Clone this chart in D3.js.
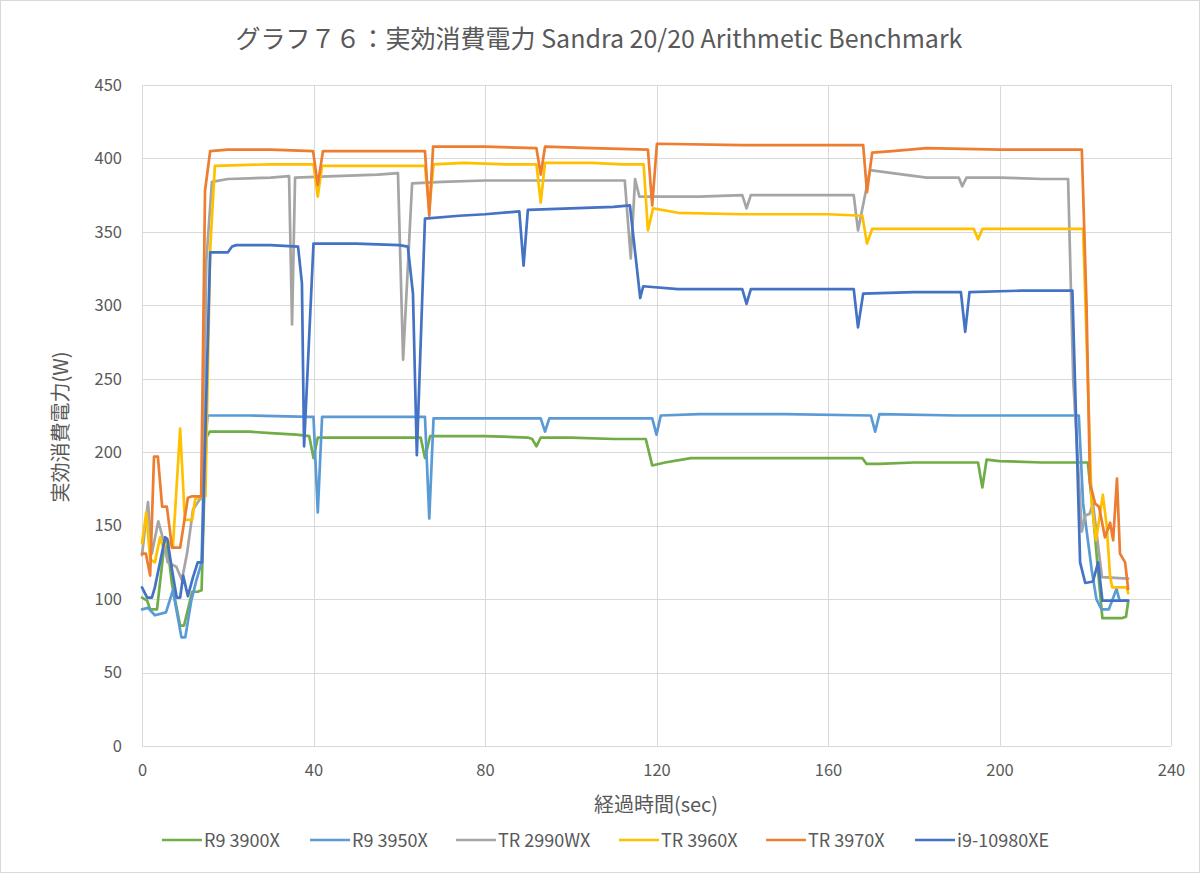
<!DOCTYPE html>
<html><head><meta charset="utf-8">
<script src="https://cdn.jsdelivr.net/npm/d3@7"></script>
<style>body{margin:0;background:#fff}svg{display:block}text{font-family:"Noto Sans CJK JP","Noto Sans",sans-serif}</style>
</head><body><svg id="c" width="1200" height="873"></svg>
<script>
const title = "グラフ７６：実効消費電力 Sandra 20/20 Arithmetic Benchmark";
const xTitle = "経過時間(sec)";
const yTitle = "実効消費電力(W)";
const xTicks = [0,40,80,120,160,200,240];
const yTicks = [0,50,100,150,200,250,300,350,400,450];
const seriesNames = ["R9 3900X","R9 3950X","TR 2990WX","TR 3960X","TR 3970X","i9-10980XE"];
const seriesColors = ["#70AD47","#5B9BD5","#A5A5A5","#FFC000","#ED7D31","#4472C4"];

const r9_3900x = [[0,101],[1.2,99],[1.9,93],[3.5,93],[5.4,142],[6.2,130],[7,110],[8.9,82],[9.8,82],[11.7,105],[13,105],[13.9,106],[14.5,170],[15,210],[15.8,214],[25,214],[30,213],[36,212],[39,211],[40,196],[41,210],[50,210],[60,210],[65,210],[66,196],[67.2,211],[80,211],[90,210],[91,209],[92,204],[93,210],[100,210],[110,209],[117.5,209],[119,191],[122,193],[128,196],[140,196],[150,196],[160,196],[168,196],[169,192],[172,192],[180,193],[195,193],[196,176],[197,195],[200,194],[210,193],[220.6,193],[221.8,159],[222.9,122],[224,87],[228.5,87],[229.5,88],[230,98]];
const r9_3950x = [[0,93],[1.4,94],[3,89],[5.6,91],[7.2,106],[9.2,74],[10.1,74],[11.5,99],[12.7,113],[13.9,125],[14.5,200],[15.3,225],[25,225],[39,224],[40,224],[41,159],[42,224],[55,224],[66,224],[67,155],[68,223],[80,223],[93,223],[94,214],[95,223],[110,223],[119,223],[120,212],[121,225],[130,226],[150,226],[170,225],[171,214],[172,226],[190,225],[210,225],[218.5,225],[219.5,165],[221.5,120],[222.6,100],[223.8,93],[225.5,93],[227.3,107],[228,99],[230,99]];
const tr_2990wx = [[0,130],[1.4,166],[2.3,131],[3.8,153],[5,140],[6,125],[8,122],[9.3,113],[10.5,131],[11.9,161],[13.5,168],[14.2,169],[15,330],[16.3,384],[20,386],[30,387],[34.3,388],[35,287],[35.7,387],[45,388],[55,389],[59.7,390],[60.9,263],[63,383],[70,384],[80,385],[100,385],[112.6,385],[114,332],[115,386],[116,374],[130,374],[140,375],[141,366],[142,375],[166,375],[167,351],[169.8,392],[175,390],[183,387],[190.5,387],[191.3,381],[192.3,387],[200,387],[210,386],[216,386],[217.2,249],[219.2,146],[220,157],[221,158],[221.8,165],[223.9,115],[230,114]];
const tr_3960x = [[0,138],[1,159],[1.9,127],[3,125],[4.2,142],[5,135],[6,140],[7.2,135],[8.9,216],[10,154],[11.7,154],[12.4,168],[14,170],[14.8,170],[15.9,338],[17,395],[30,396],[40,396],[41,374],[42,395],[55,395],[66,395],[67,365],[68,396],[75,397],[85,396],[92,396],[93,370],[94,397],[105,397],[112,396],[117,396],[118,351],[119.2,366],[125,363],[140,362],[160,362],[168,361],[169.1,342],[170.3,352],[180,352],[194,352],[195,345],[196,352],[210,352],[219.5,352],[220.6,249],[221.5,165],[222.5,140],[223.3,155],[224.1,171],[225,150],[225.8,115],[226.3,108],[229.7,108],[230,104]];
const tr_3970x = [[0,131],[0.9,131],[1.9,116],[2.8,197],[3.7,197],[4.7,163],[5.8,163],[7,135],[8.9,135],[10.7,169],[11.7,170],[13.8,170],[14.7,378],[15.9,405],[20,406],[30,406],[39.9,405],[41,382],[42.2,405],[55,405],[66,405],[67,361],[67.9,408],[80,408],[92,407],[93,389],[94,408],[105,407],[118,406],[119,368],[120.1,410],[140,409],[160,409],[168.2,409],[169.1,377],[170.3,404],[175,405],[183,407],[200,406],[219.2,406],[220.3,300],[221.1,179],[222.3,165],[223.2,163],[224.6,142],[225.8,152],[226.5,140],[227.4,182],[228.1,131],[229.3,125],[230,107]];
const i9_10980xe = [[0,108],[1.2,101],[2.3,101],[3,108],[5.4,142],[5.9,141],[7,120],[8.1,101],[8.9,101],[9.6,116],[10.7,102],[11.9,115],[13,125],[14,125],[15.2,261],[15.9,336],[20,336],[21,340],[22,341],[30,341],[36.4,340],[37.3,315],[37.8,204],[40,342],[50,342],[60,341],[62,340],[63.2,308],[64.1,198],[66,359],[74,361],[80,362],[88,364],[89,327],[90,365],[100,366],[110,367],[113.8,368],[116.2,305],[116.9,313],[125,311],[140,311],[141,301],[142,311],[155,311],[166,311],[167,285],[168.2,308],[180,309],[191,309],[192,282],[193,309],[205,310],[217,310],[217.6,249],[218.8,125],[220,111],[221.8,112],[223,125],[224,99],[230,99]];
const seriesData = [r9_3900x, r9_3950x, tr_2990wx, tr_3960x, tr_3970x, i9_10980xe];

const svg = d3.select("#c");
const W = 1200, H = 873;
const L = 142, R = 1171, T = 85, B = 746;
svg.append("rect").attr("x",0.5).attr("y",0.5).attr("width",W-1).attr("height",H-1).attr("fill","#fff").attr("stroke","#D9D9D9");
const x = d3.scaleLinear().domain([0,240]).range([L,R]);
const y = d3.scaleLinear().domain([0,450]).range([B,T]);
const txt = "#595959";

// gridlines
svg.append("g").selectAll("line").data(yTicks).join("line")
  .attr("x1",L).attr("x2",R).attr("y1",d=>Math.round(y(d))+0.5).attr("y2",d=>Math.round(y(d))+0.5)
  .attr("stroke","#D9D9D9").attr("stroke-width",1);
svg.append("g").selectAll("line").data(xTicks).join("line")
  .attr("y1",T).attr("y2",B).attr("x1",d=>Math.round(x(d))+0.5).attr("x2",d=>Math.round(x(d))+0.5)
  .attr("stroke","#D9D9D9").attr("stroke-width",1);

// axes labels via d3 axes
const gx = svg.append("g").attr("transform",`translate(0,${B})`)
  .call(d3.axisBottom(x).tickValues(xTicks).tickSize(0).tickPadding(18));
gx.select(".domain").remove();
gx.selectAll("text").attr("fill",txt).attr("font-size",16.5);
const gy = svg.append("g").attr("transform",`translate(${L},0)`)
  .call(d3.axisLeft(y).tickValues(yTicks).tickSize(0).tickPadding(20));
gy.select(".domain").remove();
gy.selectAll("text").attr("fill",txt).attr("font-size",16.5);

// lines
const line = d3.line().x(d=>x(d[0])).y(d=>y(d[1]));
svg.append("g").selectAll("path").data(seriesData).join("path")
  .attr("d",line).attr("fill","none")
  .attr("stroke",(d,i)=>seriesColors[i]).attr("stroke-width",2.7)
  .attr("stroke-linejoin","round").attr("stroke-linecap","round");

// titles
svg.append("text").attr("x",599).attr("y",48).attr("text-anchor","middle")
  .attr("font-size",25).attr("fill",txt).text(title);
svg.append("text").attr("x",656).attr("y",812).attr("text-anchor","middle")
  .attr("font-size",20).attr("fill",txt).text(xTitle);
svg.append("text").attr("transform","translate(68,427) rotate(-90)").attr("text-anchor","middle")
  .attr("font-size",20).attr("fill",txt).text(yTitle);

// legend
const legX = [162,310,456,619,766,915];
const lg = svg.append("g").selectAll("g").data(seriesNames).join("g")
  .attr("transform",(d,i)=>`translate(${legX[i]},840)`);
lg.append("line").attr("x1",0).attr("x2",40).attr("y1",0).attr("y2",0)
  .attr("stroke",(d,i)=>seriesColors[i]).attr("stroke-width",2.7);
lg.append("text").attr("x",42).attr("y",6.5).attr("font-size",18).attr("fill",txt).text(d=>d);
</script></body></html>
